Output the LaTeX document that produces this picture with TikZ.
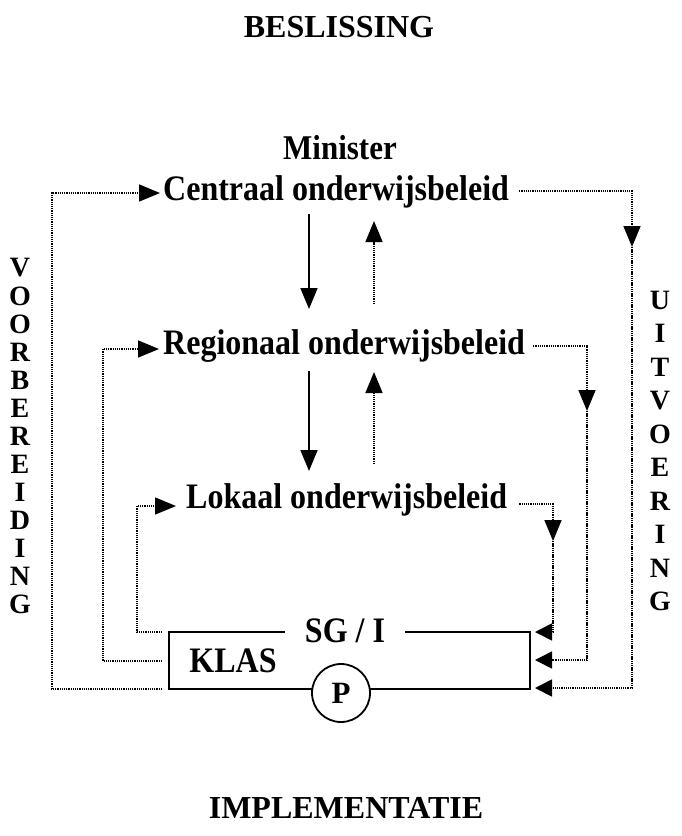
\documentclass[tikz,border=0pt]{standalone}
\usepackage{fontspec}
\setmainfont{Liberation Serif}
\usetikzlibrary{arrows.meta}
\newcommand{\tall}[1]{\scalebox{1}[1.12]{#1}}
\begin{document}
\begin{tikzpicture}[x=1pt,y=-1pt,
  lbl/.style={font=\bfseries\fontsize{32}{36}\selectfont, inner sep=0pt},
  vlet/.style={font=\bfseries\fontsize{28}{30}\selectfont, inner sep=0pt},
  dots/.style={line width=1.6pt, dash pattern=on 1.3pt off 0.9pt},
  full/.style={line width=1.8pt},
  tip/.style={-{Triangle[length=21pt,width=17pt]}},
  sidetip/.style={-{Triangle[length=17pt,width=17pt]}}
]
\useasboundingbox (0,0) rectangle (681,836);

% titles
\node[lbl, anchor=base] (top) at (339,37) {BESLISSING};
\node[lbl, anchor=base] (bottom) at (346,818) {IMPLEMENTATIE};

% levels of policy
\node[lbl, anchor=base, font=\bfseries\fontsize{31}{34}\selectfont] (min) at (340,159) {\tall{Minister}};
\node[lbl, anchor=base west] (cen) at (163,200) {\tall{Centraal onderwijsbeleid}};
\node[lbl, anchor=base west] (reg) at (163,354) {\tall{Regionaal onderwijsbeleid}};
\node[lbl, anchor=base west] (lok) at (186,508) {\tall{Lokaal onderwijsbeleid}};

% side captions
\foreach \c [count=\i from 0] in {V,O,O,R,B,E,R,E,I,D,I,N,G}
  \node[vlet] (vb\i) at (20,268+28*\i) {\c};
\foreach \c [count=\i from 0] in {U,I,T,V,O,E,R,I,N,G}
  \node[vlet] (uv\i) at (660,300+33.5*\i) {\c};

% the class box
\draw[full] (285,632) -- (169,632) -- (169,689) -- (530,689) -- (530,632) -- (405,632);
\node[lbl, anchor=base] (sg) at (345,642) {\tall{SG / I}};
\node[lbl, anchor=base, font=\bfseries\fontsize{32}{34}\selectfont] (klas) at (233,672) {\tall{KLAS}};
\node[circle, draw, full, fill=white, minimum size=58pt, inner sep=0pt,
      font=\bfseries\fontsize{31}{33}\selectfont] (p) at (341,693) {P};

% ends of the feedback loops at the box
\coordinate (bx1) at (162,689);
\coordinate (bx2) at (162,661);
\coordinate (bx3) at (162,632);
\coordinate (in1) at (535,688);
\coordinate (in2) at (535,660);
\coordinate (in3) at (535,632);

% top-down steering (solid) and bottom-up signals (dotted)
\draw[full, tip] (309,214) coordinate (d1a) -- (309,309) coordinate (d1b);
\draw[dots, tip] (374,304) coordinate (u1a) -- (374,221) coordinate (u1b);
\draw[full, tip] (309,371) coordinate (d2a) -- (309,471) coordinate (d2b);
\draw[dots, tip] (374,464) coordinate (u2a) -- (374,372) coordinate (u2b);

% preparation loops on the left
\draw[dots, tip] (bx1) -- (52,689) -- (52,193) -- ([xshift=-3pt]cen.west |- 0,193);
\draw[dots, tip] (bx2) -- (103,661) -- (103,349) -- ([xshift=-4pt]reg.west |- 0,349);
\draw[dots, tip] (bx3) -- (137,632) -- (137,506) -- ([xshift=-10pt]lok.west |- 0,506);

% execution loops on the right
\draw[dots, tip] ([xshift=10pt]cen.east |- 0,191) -- (632,191) -- (632,247) coordinate (r1);
\draw[dots, sidetip] (r1) -- (632,688) -- (in1);
\draw[dots, tip] ([xshift=8pt]reg.east |- 0,346) -- (587,346) -- (587,411) coordinate (r2);
\draw[dots, sidetip] (r2) -- (587,660) -- (in2);
\draw[dots, tip] ([xshift=12pt]lok.east |- 0,504) -- (553,504) -- (553,541) coordinate (r3);
\draw[dots, sidetip] (r3) -- (553,632) -- (in3);
\end{tikzpicture}
\end{document}
